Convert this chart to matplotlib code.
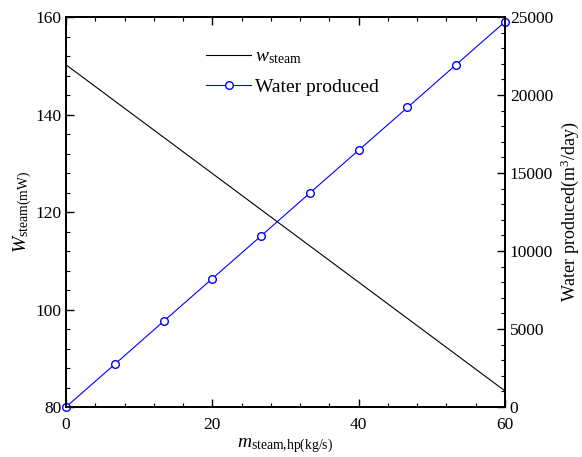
import matplotlib
matplotlib.use("Agg")
import matplotlib.pyplot as plt
from matplotlib.ticker import MultipleLocator

# data
m_steam = [0, 60]
w_steam = [150.2, 83.3]

m_water = [0, 6.67, 13.33, 20, 26.67, 33.33, 40, 46.67, 53.33, 60]
water = [0, 2740, 5490, 8230, 10970, 13720, 16460, 19200, 21950, 24690]

plt.rcParams["font.family"] = "Liberation Serif"
plt.rcParams["mathtext.fontset"] = "custom"
plt.rcParams["mathtext.rm"] = "Liberation Serif"
plt.rcParams["mathtext.it"] = "Liberation Serif:italic"
plt.rcParams["font.size"] = 12

fig = plt.figure(figsize=(5.82, 4.57), dpi=100)
ax = fig.add_axes([0.1134, 0.1094, 0.7543, 0.8534])
ax2 = ax.twinx()

l1, = ax.plot(m_steam, w_steam, color="black", lw=0.8, label=r"$w_{\mathrm{steam}}$")
l2, = ax2.plot(m_water, water, color="blue", lw=0.8, marker="o", ms=5.5,
               mfc="white", mec="blue", mew=1.0, label="Water produced", clip_on=False)

ax.set_xlim(0, 60)
ax.set_ylim(80, 160)
ax2.set_ylim(0, 25000)

ax.xaxis.set_major_locator(MultipleLocator(20))
ax.xaxis.set_minor_locator(MultipleLocator(4))
ax.yaxis.set_major_locator(MultipleLocator(20))
ax.yaxis.set_minor_locator(MultipleLocator(4))
ax2.yaxis.set_major_locator(MultipleLocator(5000))
ax2.yaxis.set_minor_locator(MultipleLocator(1000))

ax.tick_params(which="both", direction="in", top=True, labelsize=12.5)
ax.tick_params(which="major", length=6, width=1)
ax.tick_params(which="minor", length=3, width=0.8)
ax.tick_params(axis="x", which="major", pad=7)
ax2.tick_params(which="both", direction="in", labelsize=12.5)
ax2.tick_params(which="major", length=6, width=1)
ax2.tick_params(which="minor", length=3, width=0.8)
for a in (ax, ax2):
    for s in a.spines.values():
        s.set_linewidth(1.3)

ax.set_xlabel(r"$m_{\mathrm{steam{,}hp(kg/s)}}$", fontsize=14, labelpad=3)
ax.set_ylabel(r"$W_{\mathrm{steam(mW)}}$", fontsize=14, labelpad=1)
ax2.set_ylabel(r"Water produced(m$^3$/day)", fontsize=13, labelpad=4)

ax.legend([l1, l2], [l1.get_label(), l2.get_label()], loc="upper left",
          bbox_to_anchor=(0.28, 0.965), frameon=False, fontsize=14,
          handlelength=2.3, handletextpad=0.2, labelspacing=0.6)

fig.savefig("out.png", dpi=100)
